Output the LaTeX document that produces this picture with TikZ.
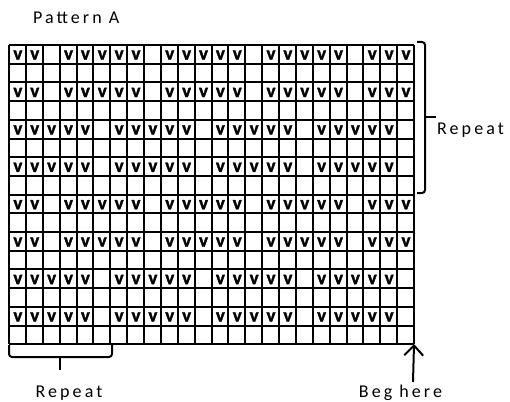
\documentclass[tikz,border=0pt]{standalone}
\usepackage{fontspec}
\setmainfont{Carlito}[LetterSpace=17]
\newfontfamily\stitchfont{Carlito}[BoldFeatures={FakeBold=1.5}]
\usetikzlibrary{arrows.meta}

\tikzset{
  lbl/.style={inner sep=0pt, font=\fontsize{18}{21}\selectfont},
  stitch/.style={inner sep=0pt, font=\fontsize{19}{20}\stitchfont\bfseries},
  gridline/.style={line width=2pt},
  brace/.style={line width=2pt, rounded corners=3pt}
}

\begin{document}
\begin{tikzpicture}[x=1pt,y=-1pt]
		\useasboundingbox (0,0) rectangle (510,401);
		\coordinate (nw) at (9,45);
		\coordinate (se) at (414,344);

		\foreach \c in {0,...,24}
			\draw[gridline] (9+\c*16.875,45) -- (9+\c*16.875,344);
		\foreach \r in {0,...,16}
			\draw[gridline] (9,45+\r*18.7) -- (414,45+\r*18.7);

		\foreach \r in {1,3,9,11}
			\foreach \c in {1,...,24}{
				\pgfmathtruncatemacro{\gap}{mod(\c,6)==3}
				\ifnum\gap=0 \node[stitch] at (9+\c*16.875-8,45+\r*18.7-8.6){v};\fi
			}
		\foreach \r in {5,7,13,15}
			\foreach \c in {1,...,24}{
				\pgfmathtruncatemacro{\gap}{mod(\c,6)==0}
				\ifnum\gap=0 \node[stitch] at (9+\c*16.875-8,45+\r*18.7-8.6){v};\fi
			}

		\node[lbl, anchor=base west] at (33,24)(title){Pattern A};
		\node[lbl, anchor=base west] at (437,134)(rowrep){Repeat};
		\node[lbl, anchor=base] at (69,397)(colrep){Repeat};
		\node[lbl, anchor=base] at (400.5,397)(beg){Beg here};

		\coordinate (rtop) at (417,42);
		\coordinate (rbot) at (417,193);
		\coordinate (rtip) at (436,117);
		\draw[brace] (rtop) -- (425,42) -- (425,193) -- (rbot);
		\draw[brace] (425,117) -- (rtip);

		\coordinate (cleft) at (9,345);
		\coordinate (cright) at (112,345);
		\coordinate (ctip) at (60,370);
		\draw[brace] (cleft) -- (9,357) -- (112,357) -- (cright);
		\draw[brace] (60,357) -- (ctip);

		\coordinate (tail) at (413,382);
		\path[line width=2pt, -{Straight Barb[length=10pt,width=19pt]}] (tail) edge (se);
	\end{tikzpicture}
\end{document}
